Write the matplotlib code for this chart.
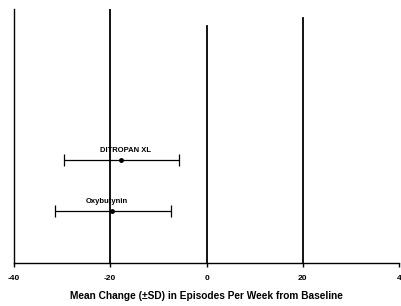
import matplotlib.pyplot as plt

# values
drugs = ["DITROPAN XL", "Oxybutynin"]
means = [-17.8, -19.7]
lows = [-29.7, -31.4]
highs = [-5.7, -7.3]
rows = [0.405, 0.205]
label_x = [-16.8, -20.6]
ticks = [-40, -20, 0, 20, 40]
tick_labels = ["-40", "-20", "0", "20", "4"]
grid_tops = {-20: 1.0, 0: 0.933, 20: 0.965}


def draw():
    plt.rcParams['font.family'] = ['Liberation Sans', 'DejaVu Sans']
    fig = plt.figure(figsize=(4.01, 3.06), dpi=100)
    ax = fig.add_axes([14 / 401, 1 - 263 / 306, 385 / 401, 254 / 306])
    ax.set_xlim(-40, 40)
    ax.set_ylim(0, 1)

    for x, top in grid_tops.items():
        ax.axvline(x, ymin=0, ymax=top, color="black", lw=1.3)

    for name, m, lo, hi, y, lx in zip(drugs, means, lows, highs, rows, label_x):
        err = [[m - lo], [hi - m]]
        ax.errorbar([m], [y], xerr=err, fmt="o", color="black", ms=2.5,
                    elinewidth=0.9, capsize=4, capthick=0.9)
        ax.text(lx, y + 0.025, name, ha="center", va="bottom",
                fontsize=5.5, fontweight="bold",
                fontstretch="condensed" if name == "Oxybutynin" else "normal")

    for side in ["top", "right"]:
        ax.spines[side].set_visible(False)
    ax.spines["left"].set_linewidth(1.0)
    ax.spines["bottom"].set_linewidth(1.0)
    ax.set_yticks([])
    ax.set_xticks(ticks)
    ax.set_xticklabels(tick_labels, fontsize=6, fontweight="bold")
    ax.tick_params(axis="x", length=3, width=1, pad=6)
    ax.set_xlabel("Mean Change (\u00b1SD) in Episodes Per Week from Baseline",
                  fontsize=7.3, fontweight="bold", labelpad=6)

    fig.savefig("out.png", dpi=100)


def main():
    draw()


if __name__ == "__main__":
    main()
